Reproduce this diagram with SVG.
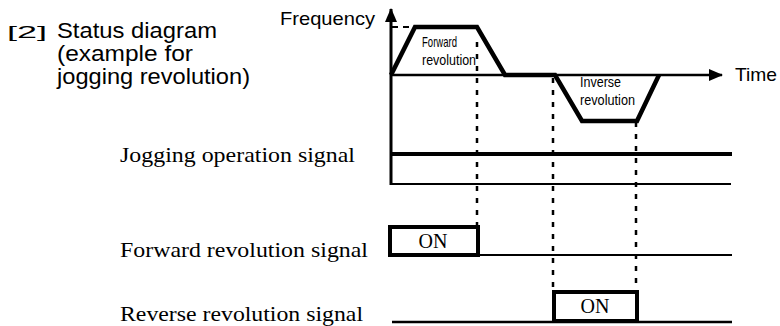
<svg xmlns="http://www.w3.org/2000/svg" width="780" height="326" viewBox="0 0 780 326">
<style>
.sans{font-family:"Liberation Sans",Arial,sans-serif;fill:#000}
.serif{font-family:"Liberation Serif","Times New Roman",serif;fill:#000}
.small{font-family:"Liberation Sans Narrow","Liberation Sans",Arial,sans-serif;font-size:15px;fill:#000}
.ax{stroke:#000;fill:none}
.dot{stroke:#000;stroke-width:2.5;stroke-dasharray:5 7;fill:none}
.box{stroke:#000;stroke-width:4;fill:#fff}
</style>
<defs>
<marker id="ah" markerWidth="14" markerHeight="12" refX="13" refY="6" orient="auto" markerUnits="userSpaceOnUse">
<path d="M0,0 L14,6 L0,12 Z" fill="#000"/>
</marker>
</defs>
<rect width="780" height="326" fill="#fff"/>
<g id="title">
<text class="sans" x="7" y="38" font-size="16" textLength="40" lengthAdjust="spacingAndGlyphs" fill="#333">[2]</text>
<text class="sans" x="57" y="38" font-size="22" textLength="160" lengthAdjust="spacingAndGlyphs">Status diagram</text>
<text class="sans" x="57" y="61" font-size="22" textLength="136" lengthAdjust="spacingAndGlyphs">(example for</text>
<text class="sans" x="57" y="84" font-size="22" textLength="193" lengthAdjust="spacingAndGlyphs">jogging revolution)</text>
</g>
<g id="connectors">
<line class="ax" x1="391" y1="185" x2="391" y2="9" stroke-width="3" marker-end="url(#ah)"/>
<line class="ax" x1="391" y1="75" x2="722" y2="75" stroke-width="2.5" marker-end="url(#ah)"/>
<line class="ax" x1="392" y1="27" x2="415" y2="27" stroke-width="2" stroke-dasharray="6 5"/>
<line class="dot" x1="477" y1="42" x2="477" y2="225"/>
<line class="dot" x1="553" y1="78" x2="553" y2="290"/>
<line class="dot" x1="636" y1="122" x2="636" y2="290"/>
</g>
<g id="frequency-curve">
<polyline points="391,75 415,27 477,27 505,75 555,75 582,121 637,121 659,75" fill="none" stroke="#000" stroke-width="4.5" stroke-linejoin="miter"/>
</g>
<g id="axis-labels">
<text class="sans" x="280" y="25" font-size="19" textLength="95" lengthAdjust="spacingAndGlyphs">Frequency</text>
<text class="sans" x="735" y="81" font-size="19" textLength="42" lengthAdjust="spacingAndGlyphs">Time</text>
</g>
<g id="forward-label">
<text class="small" x="422" y="47" textLength="35" lengthAdjust="spacingAndGlyphs">Forward</text>
<text class="small" x="422" y="65" textLength="54" lengthAdjust="spacingAndGlyphs">revolution</text>
</g>
<g id="inverse-label">
<text class="small" x="580" y="87" textLength="41" lengthAdjust="spacingAndGlyphs">Inverse</text>
<text class="small" x="580" y="105" textLength="55" lengthAdjust="spacingAndGlyphs">revolution</text>
</g>
<g id="jogging-signal">
<text class="serif" x="120" y="162" font-size="22" textLength="235" lengthAdjust="spacingAndGlyphs">Jogging operation signal</text>
<line class="ax" x1="391" y1="154" x2="732" y2="154" stroke-width="4"/>
<line class="ax" x1="390" y1="184" x2="731" y2="184" stroke-width="2"/>
</g>
<g id="forward-signal">
<text class="serif" x="120" y="257" font-size="22" textLength="248" lengthAdjust="spacingAndGlyphs">Forward revolution signal</text>
<line class="ax" x1="479" y1="255" x2="732" y2="255" stroke-width="2"/>
<rect class="box" x="390" y="227" width="88" height="28"/>
<text class="serif" x="433" y="248" font-size="20" text-anchor="middle">ON</text>
</g>
<g id="reverse-signal">
<text class="serif" x="120" y="321" font-size="22" textLength="243" lengthAdjust="spacingAndGlyphs">Reverse revolution signal</text>
<line class="ax" x1="392" y1="322" x2="732" y2="322" stroke-width="2.5"/>
<rect class="box" x="554" y="292" width="83" height="29"/>
<text class="serif" x="595" y="313" font-size="20" text-anchor="middle">ON</text>
</g>
</svg>
